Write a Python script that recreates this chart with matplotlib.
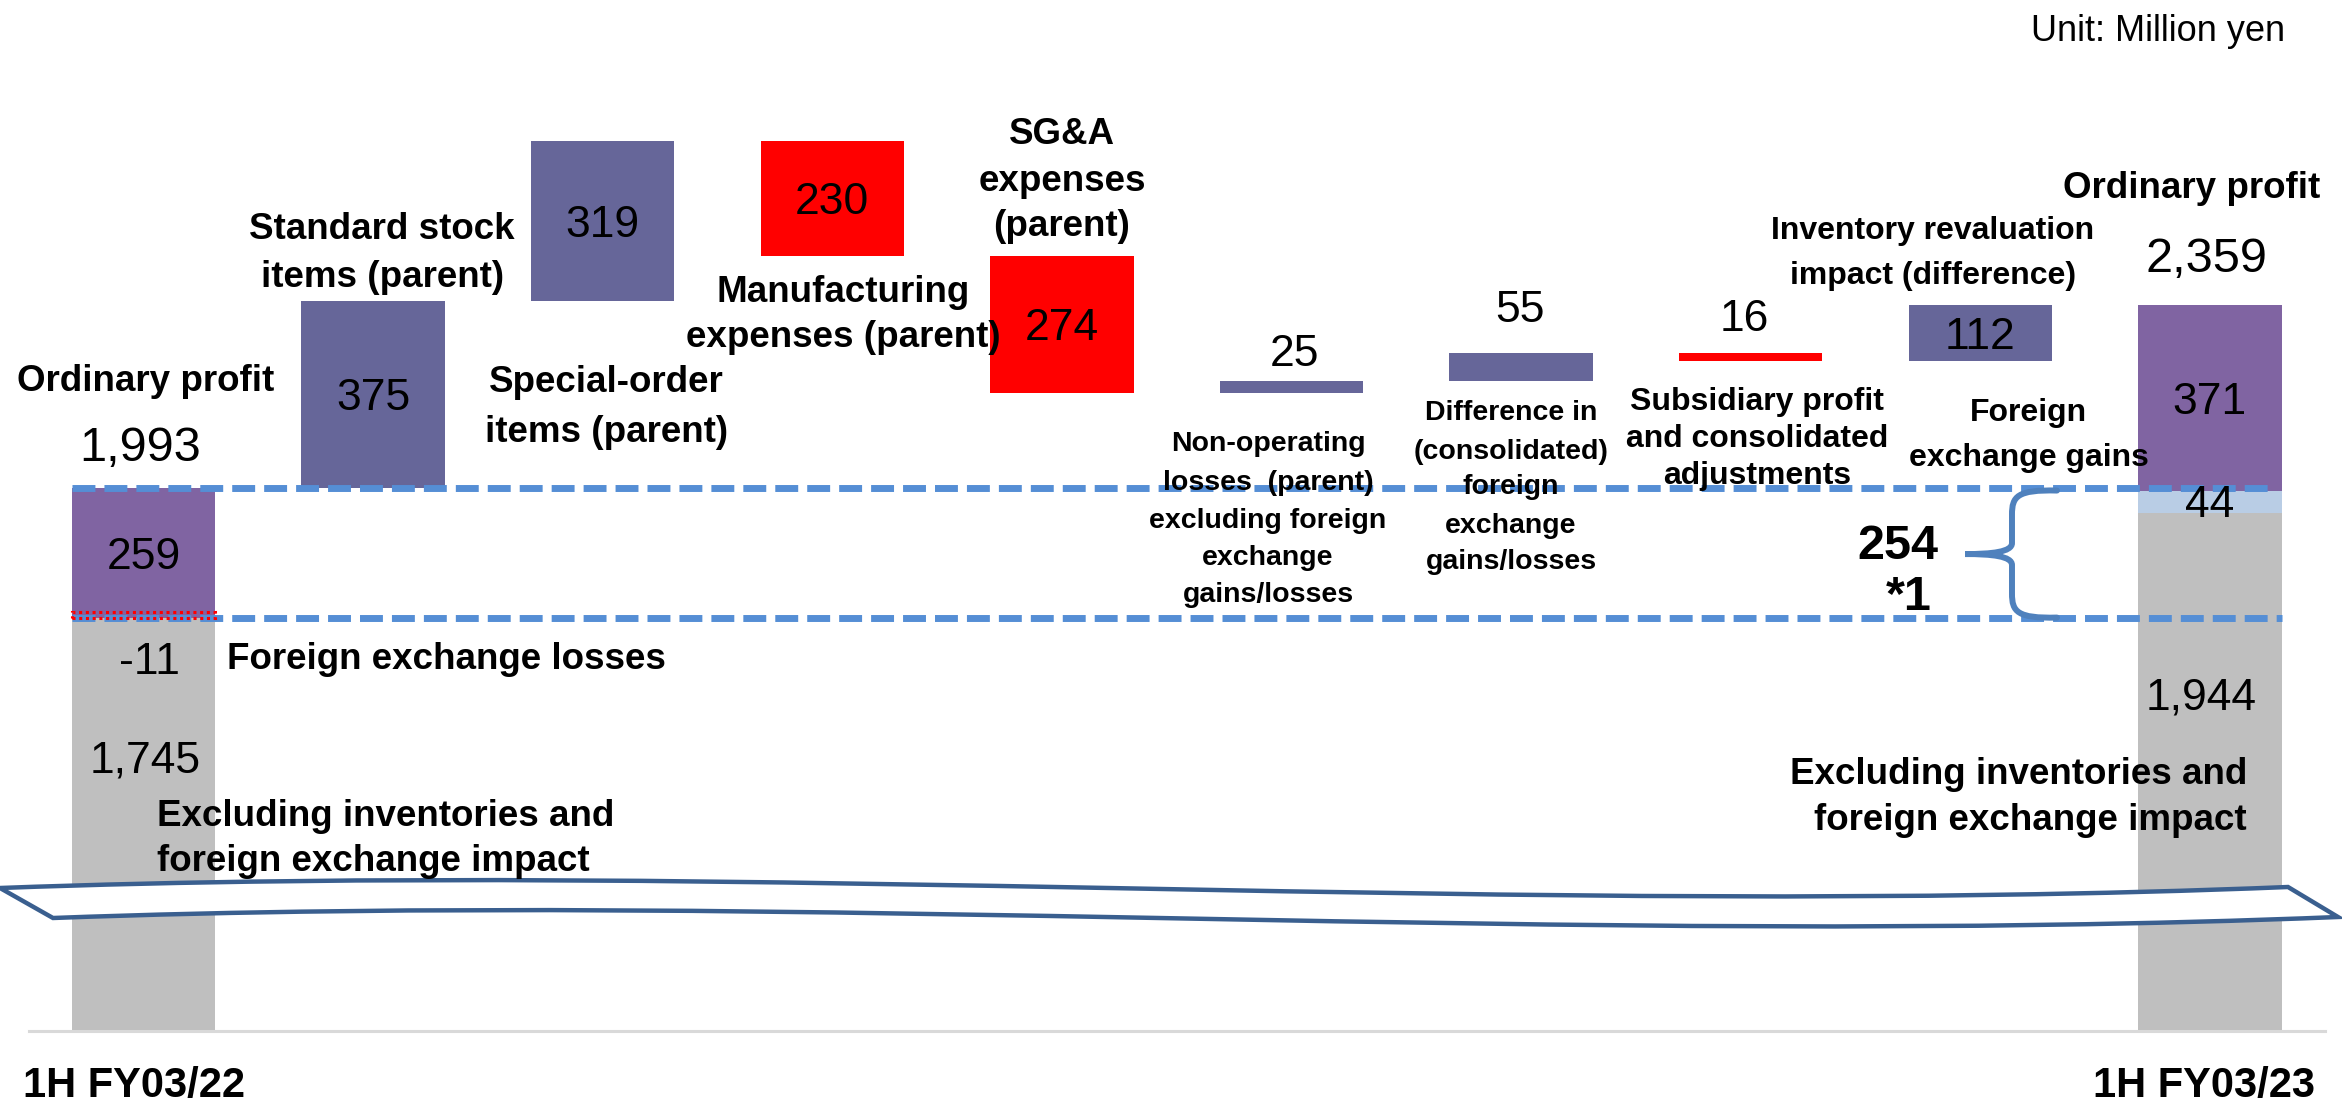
import matplotlib
matplotlib.use("Agg")
import matplotlib.pyplot as plt
from matplotlib.path import Path
from matplotlib.patches import PathPatch
from matplotlib.transforms import Affine2D

plt.rcParams['font.family'] = ['Liberation Sans', 'DejaVu Sans']

# ---- data (million yen) ----
start_label = "1H FY03/22"
end_label = "1H FY03/23"
start_base = 1745          # excluding inventories and FX impact
start_fx = -11             # foreign exchange losses
start_inv = 259            # inventory revaluation part
start_total = 1993
step_values = [375, 319, -230, -274, 25, 55, -16, 112]
end_base = 1944
end_fx = 44                # foreign exchange gains
end_inv = 371
end_total = 2359
fx_bracket_value = 254

# ---- layout ----
W, H, DPI = 2342, 1110, 100
AX_L, AX_R, AX_BOT = 28.7, 2324.7, 1030.6      # pixel frame of the axes
Y_FLOOR, Y_TOP = 908, 2969                      # broken value axis range
BAR_W = 0.625

C_POS = '#666699'
C_NEG = '#FF0000'
C_INV = '#8064A2'
C_FX = '#B9CDE5'
C_BASE = '#BFBFBF'
C_DASH = '#558ED5'
C_BRACE = '#4F81BD'
C_WAVE = '#3A5F8F'

fig = plt.figure(figsize=(W / DPI, H / DPI), dpi=DPI)
ax = fig.add_axes([AX_L / W, 1 - AX_BOT / H, (AX_R - AX_L) / W, AX_BOT / H])
ax.set_xlim(-0.5, 9.5)
ax.set_ylim(Y_FLOOR, Y_TOP)
for s in ('top', 'left', 'right'):
    ax.spines[s].set_visible(False)
ax.spines['bottom'].set_color('#D9D9D9')
ax.spines['bottom'].set_linewidth(2.2)
ax.set_xticks([])
ax.set_yticks([])


def cap_half(size):
    return 0.358 * size * DPI / 72.0


def put(x, v, s, dx=0.0, dy=0.0, size=32, bold=False, ha='center', z=7):
    """Text whose cap-height centre sits dx/dy pixels from data point (x, v)."""
    ax.annotate(s, xy=(x, v), xytext=(dx, dy - cap_half(size)),
                textcoords='offset pixels', ha=ha, va='baseline',
                fontsize=size, fontweight='bold' if bold else 'normal',
                annotation_clip=False, zorder=z)


def put_lines(x, v, lines, dx, dys, size, ha='center'):
    for line, dy in zip(lines, dys):
        put(x, v, line, dx=dx, dy=dy, size=size, bold=True, ha=ha)


def fig_text(px, py, s, size=26.5, bold=True, ha='center'):
    fig.text(px / W, 1 - (py + cap_half(size)) / H, s, ha=ha, va='baseline',
             fontsize=size, fontweight='bold' if bold else 'normal')


# ---- start bar (stacked) ----
x0, x_end = 0, len(step_values) + 1
ax.bar(x0, start_base - Y_FLOOR, bottom=Y_FLOOR, width=BAR_W, color=C_BASE, zorder=2)
inv_bottom = start_base + start_fx
ax.bar(x0, start_inv, bottom=inv_bottom, width=BAR_W, color=C_INV, zorder=3)
ax.bar(x0, -start_fx, bottom=inv_bottom, width=BAR_W, fill=False,
       edgecolor=C_NEG, linewidth=2.2, linestyle=(0, (1, 1.2)), zorder=6)

# ---- step bars ----
level = start_total
tops, bottoms = [], []
for i, v in enumerate(step_values, start=1):
    lo, hi = (level, level + v) if v >= 0 else (level + v, level)
    ax.bar(i, hi - lo, bottom=lo, width=BAR_W,
           color=C_POS if v >= 0 else C_NEG, zorder=3)
    tops.append(hi)
    bottoms.append(lo)
    level += v

# ---- end bar (stacked) ----
ax.bar(x_end, end_base - Y_FLOOR, bottom=Y_FLOOR, width=BAR_W, color=C_BASE, zorder=2)
ax.bar(x_end, end_fx, bottom=end_base, width=BAR_W, color=C_FX, zorder=3)
ax.bar(x_end, end_inv, bottom=end_base + end_fx, width=BAR_W, color=C_INV, zorder=3)

# ---- dashed reference levels ----
x_left = x0 - BAR_W / 2
x_right = x_end + BAR_W / 2
for yv, xr in ((start_total, x_right - 0.06), (inv_bottom, x_right)):
    ax.plot([x_left, xr], [yv, yv], color=C_DASH, linewidth=5.0,
            dashes=(3.3, 1.3), solid_capstyle='butt', dash_capstyle='butt', zorder=5)

# ---- value labels inside / above bars ----
put(x0, inv_bottom + start_inv / 2, f"{start_inv}")
for i, v in enumerate(step_values, start=1):
    mid = (tops[i - 1] + bottoms[i - 1]) / 2
    if abs(v) >= 100:
        put(i, mid, f"{abs(v)}")
put(5, tops[4], f"{abs(step_values[4])}", dx=3, dy=30)
put(6, tops[5], f"{abs(step_values[5])}", dx=-1, dy=47)
put(7, tops[6], f"{abs(step_values[6])}", dx=-6, dy=38)
put(x_end, end_base + end_fx + end_inv / 2, f"{end_inv}")
put(x_end, end_base + end_fx / 2, f"{end_fx}")

# totals
put(x0, start_total, "Ordinary profit", dx=2, dy=110, size=26.5, bold=True)
put(x0, start_total, f"{start_total:,}", dx=-3, dy=44, size=35)
put(x_end, end_total, "Ordinary profit", dx=-18.5, dy=120, size=26.5, bold=True)
put(x_end, end_total, f"{end_total:,}", dx=-3, dy=50, size=35)

# start bar breakdown labels
put(x0, inv_bottom, f"{start_fx}", dx=6, dy=-40.5)
put(x0, start_base, f"{start_base:,}", dx=2, dy=-145)
put(x0, inv_bottom, "Foreign exchange losses", dx=83.5, dy=-38.5,
    size=26.5, bold=True, ha='left')
fig_text(157, 813, "Excluding inventories and", ha='left')
fig_text(157, 858, "foreign exchange impact", ha='left')

# end bar breakdown labels
fig_text(2201.5, 693.5, f"{end_base:,}", size=32, bold=False)
fig_text(2247, 771, "Excluding inventories and", ha='right')
fig_text(2247, 817, "foreign exchange impact", ha='right')
fig_text(2028.5, 410, "Foreign", size=23)
fig_text(2028.5, 455, "exchange gains", size=23)

# step category labels
put_lines(1, tops[0], ["Standard stock", "items (parent)"], 9, [75, 27], 26.5)
put_lines(2, bottoms[1], ["Special-order", "items (parent)"], 4, [-78, -128], 26.5)
put_lines(3, bottoms[2], ["Manufacturing", "expenses (parent)"], 11, [-33, -78], 26.5)
put_lines(4, tops[3], ["SG&A", "expenses", "(parent)"], 0, [125.5, 78.5, 33.5], 26.5)
put_lines(5, bottoms[4], ["Non-operating", "losses  (parent)", "excluding foreign",
                          "exchange", "gains/losses"],
          -23.5, [-48, -87, -125, -162, -199], 20.5)
put_lines(6, bottoms[5], ["Difference in", "(consolidated)", "foreign",
                          "exchange", "gains/losses"],
          -10, [-29, -68, -103, -142, -178], 20.5)
put_lines(7, bottoms[6], ["Subsidiary profit", "and consolidated", "adjustments"],
          6, [-38, -75, -112], 23)
put_lines(8, tops[7], ["Inventory revaluation", "impact (difference)"],
          -47.7, [77, 32], 23)

# ---- brace for the FX-adjusted difference ----
b_lo = inv_bottom
b_hi = inv_bottom + fx_bracket_value
b_mid = (b_lo + b_hi) / 2
xt, xs, xm = 8.334, 8.138, 7.934
verts = [(xt, b_hi), (8.16, b_hi + 2), (xs, b_hi - 12), (xs, b_hi - 48),
         (xs, b_mid + 22),
         (xs, b_mid + 4), (8.05, b_mid), (xm, b_mid),
         (8.05, b_mid), (xs, b_mid - 4), (xs, b_mid - 22),
         (xs, b_lo + 48),
         (xs, b_lo + 12), (8.16, b_lo - 2), (xt, b_lo)]
codes = [Path.MOVETO, Path.CURVE4, Path.CURVE4, Path.CURVE4,
         Path.LINETO,
         Path.CURVE4, Path.CURVE4, Path.CURVE4,
         Path.CURVE4, Path.CURVE4, Path.CURVE4,
         Path.LINETO,
         Path.CURVE4, Path.CURVE4, Path.CURVE4]
ax.add_patch(PathPatch(Path(verts, codes), fill=False, edgecolor=C_BRACE,
                       linewidth=4.3, capstyle='round', zorder=6, clip_on=False))
fig_text(1897.5, 542, f"{fx_bracket_value}", size=35, bold=True)
fig_text(1909, 593, "*1", size=35, bold=True)

# ---- axis-break band (pixel frame, origin top-left) ----
px = Affine2D().scale(1.0 / W, -1.0 / H).translate(0, 1) + fig.transFigure
band = [(0, 888), (760, 860), (1520, 918), (2288, 887),
        (2338, 917),
        (1570, 948), (810, 890), (53, 918),
        (0, 888)]
band_codes = [Path.MOVETO, Path.CURVE4, Path.CURVE4, Path.CURVE4,
              Path.LINETO,
              Path.CURVE4, Path.CURVE4, Path.CURVE4,
              Path.CLOSEPOLY]
ax.add_patch(PathPatch(Path(band, band_codes), facecolor='white', edgecolor=C_WAVE,
                       linewidth=3.2, joinstyle='miter', transform=px,
                       clip_on=False, zorder=8))

# ---- header and category labels ----
fig_text(2285, 28, "Unit: Million yen", size=26, bold=False, ha='right')
fig_text(23, 1082, start_label, size=30, ha='left')
fig_text(2315, 1082, end_label, size=30, ha='right')

fig.savefig("out.png", dpi=DPI)
